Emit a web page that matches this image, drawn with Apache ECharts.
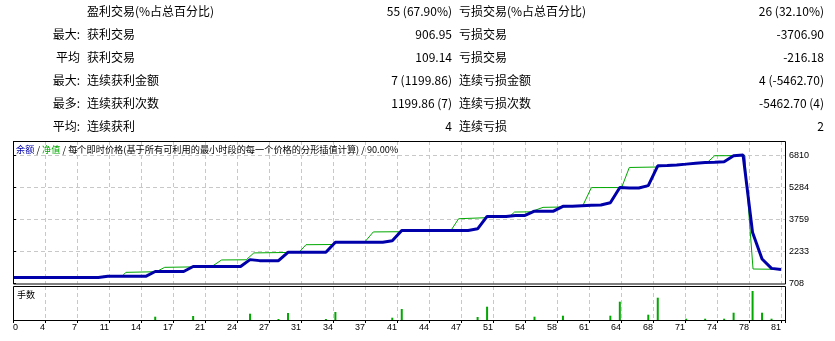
<!DOCTYPE html>
<html><head><meta charset="utf-8">
<script src="https://cdn.jsdelivr.net/npm/echarts@6/dist/echarts.min.js"></script>
<style>html,body{margin:0;padding:0;background:#fff}#c{width:835px;height:341px}</style>
</head><body><div id="c"></div>
<script>
// ---- statistics table (text data) ----
const statPrefix = ["", "最大:", "平均", "最大:", "最多:", "平均:"];
const statLabelWin = ["盈利交易(%占总百分比)", "获利交易", "获利交易", "连续获利金额", "连续获利次数", "连续获利"];
const statValueWin = ["55 (67.90%)", "906.95", "109.14", "7 (1199.86)", "1199.86 (7)", "4"];
const statLabelLoss = ["亏损交易(%占总百分比)", "亏损交易", "亏损交易", "连续亏损金额", "连续亏损次数", "连续亏损"];
const statValueLoss = ["26 (32.10%)", "-3706.90", "-216.18", "4 (-5462.70)", "-5462.70 (4)", "2"];

// ---- axis tick labels ----
const xTickLabels = ['0','4','7','11','14','17','21','24','27','31','34','37','41','44','47','51','54','58','61','64','68','71','74','78','81'];
const yTickLabels = ['708','2233','3759','5284','6810'];

// ---- balance per trade number 0..81 ----
const balance = [
  1000,1000,1000,1000,1000,1000,1000,1000,1000,1000,
  1050,1050,1050,1050,1050,
  1280,1280,1280,1280,
  1520,1520,1520,1520,1520,1520,
  1848,
  1800,1800,1800,
  2200,2200,2200,2200,2200,
  2680,2680,2680,2680,2680,2680,
  2744,
  3240,3240,3240,3240,3240,3240,3240,3240,
  3320,
  3912,3912,3912,
  3960,3960,
  4160,4160,4160,
  4392,4400,4420,4440,4460,4560,
  5288,5272,5270,5380,
  6328,6340,6370,6408,6450,6488,6500,6520,
  6808,6845,
  3138,1880,1430,1382
];

// ---- equity (trade position, value) ----
const equityTrade = [0,9.2,9.5,11.5,11.9,15.1,16.0,18.9,19.1,21.1,22.0,24.6,25.4,28.9,29.0,30.2,30.9,33.8,34.0,37.1,38.0,40.7,41.0,46.2,47.0,49.9,50.1,52.4,52.9,54.6,55.9,58.0,58.2,60.1,61.0,63.9,64.2,65.0,67.9,68.1,71.0,73.0,73.3,74.0,77.2,77.3,78.05,81];
const equityValue = [1000,1000,1050,1050,1240,1270,1480,1500,1520,1560,1832,1840,2168,2190,2200,2210,2560,2570,2680,2690,3170,3180,3240,3250,3800,3850,3912,3920,4120,4130,4344,4360,4400,4430,5288,5290,5300,6248,6270,6330,6408,6488,6520,6808,6815,5912,1400,1382];

// ---- lot sizes ----
const volTrades = [15,19,25,28,29,33,34,40,41,49,50,55,58,63,64,67,68,71,73,75,76,78,79,80];
const volLots = [0.33,0.40,0.63,0.10,0.70,0.10,0.80,0.23,1.10,0.30,1.33,0.33,0.43,0.43,1.83,0.53,2.23,0.13,0.13,0.13,0.73,2.90,0.73,0.13];

const BLUE = '#0000aa', GREEN = '#00a800';
const X_INT = 3.375, X_MAX = 81.42;
const Y_MIN = 708, Y_INT = 1525.5, Y_MAX = 7512;
const FONT_CJK = '"Noto Sans CJK SC", sans-serif';
const FONT_AX = '"Liberation Sans", Arial, sans-serif';

const L = 13, W = 772, T1 = 141, H1 = 142.5, T2 = 286, H2 = 34;

function xFmt(v){
  const k = v / X_INT, r = Math.round(k);
  return (Math.abs(k - r) < 1e-6 && r < xTickLabels.length) ? xTickLabels[r] : '';
}
function yFmt(v){
  const k = (v - Y_MIN) / Y_INT, r = Math.round(k);
  return (Math.abs(k - r) < 1e-6 && r < yTickLabels.length) ? yTickLabels[r] : '';
}
const dashed = {show:true, showMinLine:false, showMaxLine:false, lineStyle:{color:'#c8c8c8', width:1, type:[4,3]}};

function xAxis(gi, labels){
  return {
    type:'value', gridIndex:gi, min:0, max:X_MAX, interval:X_INT,
    axisLine:{show:false},
    axisTick:{show:labels, length:3, lineStyle:{color:'#000'}},
    axisLabel:{show:labels, formatter:xFmt, align:'right', alignMinLabel:'left', showMinLabel:true,
      margin:3, fontSize:9, color:'#000', fontFamily:FONT_AX},
    splitLine:dashed
  };
}

const graphics = [];
function txt(text, x, y, align, size, color, family){
  graphics.push({type:'text', x:x, y:y, z:50, silent:true,
    style:{text:text, fill:color||'#000', font:(size||12)+'px '+(family||FONT_CJK), align:align, verticalAlign:'middle'}});
}
statPrefix.forEach((s,i)=>txt(s, 80, 11+23*i, 'right'));
statLabelWin.forEach((s,i)=>txt(s, 87, 11+23*i, 'left'));
statValueWin.forEach((s,i)=>txt(s, 452, 11+23*i, 'right'));
statLabelLoss.forEach((s,i)=>txt(s, 459, 11+23*i, 'left'));
statValueLoss.forEach((s,i)=>txt(s, 824, 11+23*i, 'right'));
txt('手数', 17, 295, 'left', 9);
// frames
graphics.push({type:'rect', z:60, silent:true, shape:{x:L+0.5, y:T1+0.5, width:W, height:H1}, style:{fill:null, stroke:'#000', lineWidth:1}});
graphics.push({type:'rect', z:60, silent:true, shape:{x:L+0.5, y:T2+0.5, width:W, height:H2}, style:{fill:null, stroke:'#000', lineWidth:1}});

const option = {
  animation:false,
  backgroundColor:'#fff',
  title:{
    left:16, top:145, padding:0,
    text:'{b|余额} / {g|净值} / 每个即时价格(基于所有可利用的最小时段的每一个价格的分形插值计算) / 90.00%',
    textStyle:{fontSize:9.2, fontWeight:'normal', color:'#000', fontFamily:FONT_CJK,
      rich:{b:{color:BLUE, fontSize:9.2, fontFamily:FONT_CJK}, g:{color:GREEN, fontSize:9.2, fontFamily:FONT_CJK}}}
  },
  grid:[
    {left:L, top:T1, width:W, height:H1, show:false},
    {left:L, top:T2, width:W, height:H2, show:false}
  ],
  xAxis:[xAxis(0,false), xAxis(1,true)],
  yAxis:[
    {type:'value', gridIndex:0, position:'right', min:Y_MIN, max:Y_MAX, interval:Y_INT,
      axisLine:{show:false}, axisTick:{show:true, length:3, lineStyle:{color:'#000'}},
      axisLabel:{formatter:yFmt, margin:4, fontSize:9, color:'#000', fontFamily:FONT_AX, showMinLabel:true, showMaxLabel:true},
      splitLine:dashed},
    {type:'value', gridIndex:1, min:0, max:3.4, show:false, splitLine:{show:false}}
  ],
  graphic:graphics,
  series:[
    {type:'line', name:'净值', xAxisIndex:0, yAxisIndex:0, showSymbol:false, z:2,
      data:equityTrade.map((t,i)=>[t, equityValue[i]]), lineStyle:{color:GREEN, width:1}, itemStyle:{color:GREEN}},
    {type:'line', name:'余额', xAxisIndex:0, yAxisIndex:0, showSymbol:false, z:3,
      data:balance.map((v,i)=>[i, v]), lineStyle:{color:BLUE, width:3}, itemStyle:{color:BLUE}},
    {type:'bar', name:'手数', xAxisIndex:1, yAxisIndex:1, barWidth:2,
      data:volTrades.map((t,i)=>[t, volLots[i]]), itemStyle:{color:GREEN}}
  ]
};
const chart = echarts.init(document.getElementById('c'));
chart.setOption(option);
</script>
</body></html>
